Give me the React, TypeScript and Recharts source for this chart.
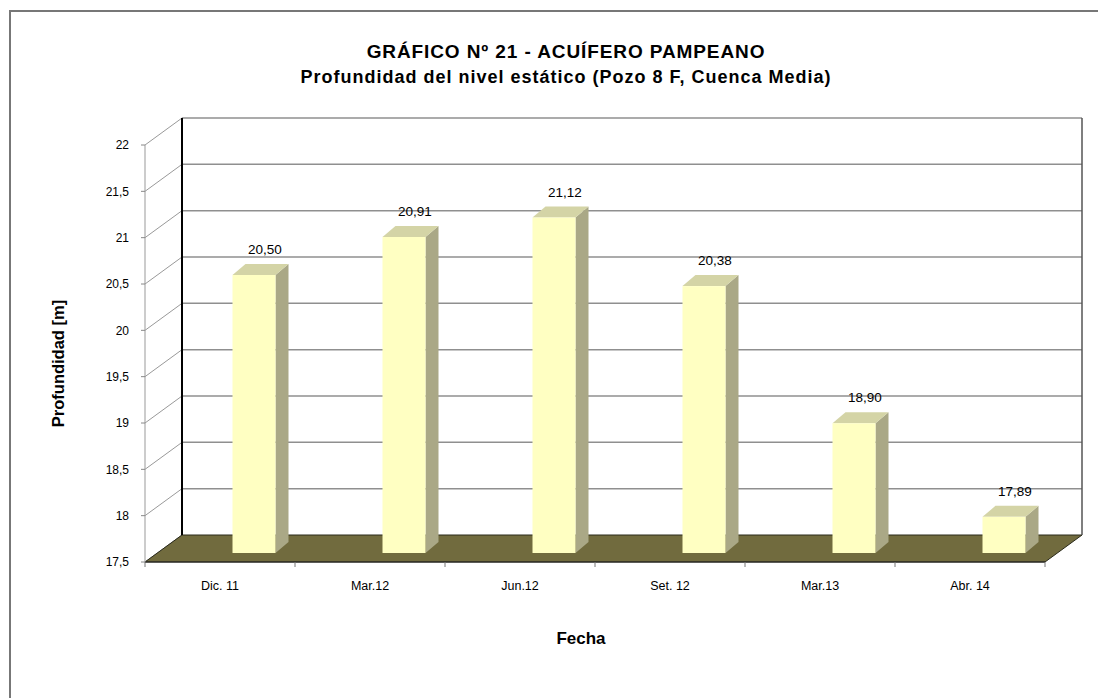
import { BarChart, Bar, XAxis, YAxis, CartesianGrid } from "recharts";

const fechas = ["Dic. 11", "Mar.12", "Jun.12", "Set. 12", "Mar.13", "Abr. 14"];
const profundidad = [20.5, 20.91, 21.12, 20.38, 18.9, 17.89];
const yTicks = [17.5, 18, 18.5, 19, 19.5, 20, 20.5, 21, 21.5, 22];

const data = fechas.map((fecha, i) => ({ fecha, profundidad: profundidad[i] }));

const W = 1098;
const H = 698;
// front plane of the 3D box
const TOP = 145;
const BOTTOM = 562;
const LEFT = 145;
const RIGHT = 1045;
const BAND = (RIGHT - LEFT) / fechas.length;
// depth of the box (back wall offset)
const DX = 37;
const DY = -27;

const FONT = "'Liberation Sans', Arial, sans-serif";

const coma = (v: number, d?: number) =>
  (d === undefined ? String(v) : v.toFixed(d)).replace(".", ",");

// each horizontal grid line becomes side-wall diagonal + back-wall line
function WallLine(props: any) {
  const { x1, x2, y1 } = props;
  const bx1 = x1 + DX;
  const bx2 = x2 + DX;
  const by = y1 + DY;
  if (Math.abs(y1 - BOTTOM) < 1) {
    return (
      <g>
        <line x1={x1} y1={y1} x2={bx1} y2={by} stroke="#999" strokeWidth={1} />
        <polygon
          points={`${x1},${y1} ${x2},${y1} ${bx2},${by} ${bx1},${by}`}
          fill="#716b3e"
          stroke="#2a2a1a"
          strokeWidth={1}
        />
      </g>
    );
  }
  const isTop = Math.abs(y1 - TOP) < 1;
  return (
    <g>
      <line x1={x1} y1={y1} x2={bx1} y2={by} stroke="#999" strokeWidth={1} />
      <line x1={bx1} y1={by} x2={bx2} y2={by} stroke="#8f8f8f" strokeWidth={1.5} />
      {isTop && (
        <>
          <line x1={bx1} y1={by} x2={bx1} y2={BOTTOM + DY} stroke="#000" strokeWidth={2} />
          <line x1={bx2} y1={by} x2={bx2} y2={BOTTOM + DY} stroke="#555" strokeWidth={1.5} />
        </>
      )}
    </g>
  );
}

function Column(props: any) {
  const { x, y, width, height, value } = props;
  const cx = x + width / 2;
  const fw = 43;
  const fx = cx + 12;
  const ftop = y - 9;
  const fbot = y + height - 9;
  const bdx = 13;
  const bdy = -11;
  return (
    <g>
      <polygon
        points={`${fx + fw},${ftop} ${fx + fw + bdx},${ftop + bdy} ${fx + fw + bdx},${fbot + bdy} ${fx + fw},${fbot}`}
        fill="#aaa886"
      />
      <polygon
        points={`${fx},${ftop} ${fx + bdx},${ftop + bdy} ${fx + fw + bdx},${ftop + bdy} ${fx + fw},${ftop}`}
        fill="#d4d4a6"
      />
      <rect x={fx} y={ftop} width={fw} height={fbot - ftop} fill="#ffffc2" />
      <text
        x={fx + fw / 2 + 11}
        y={ftop + bdy - 10}
        textAnchor="middle"
        fontSize={13.5}
        fontFamily={FONT}
        fill="#000"
      >
        {coma(value, 2)}
      </text>
    </g>
  );
}

function FechaTick(props: any) {
  const { x, payload, index } = props;
  const last = index === fechas.length - 1;
  return (
    <g>
      <line x1={x - BAND / 2} y1={BOTTOM} x2={x - BAND / 2} y2={BOTTOM + 5} stroke="#777" />
      {last && <line x1={x + BAND / 2} y1={BOTTOM} x2={x + BAND / 2} y2={BOTTOM + 5} stroke="#777" />}
      <text x={x} y={BOTTOM + 28} textAnchor="middle" fontSize={12.5} fontFamily={FONT} fill="#000">
        {payload.value}
      </text>
    </g>
  );
}

export default function App() {
  return (
    <div
      style={{
        position: "absolute",
        left: 0,
        top: 0,
        width: W,
        height: H,
        background: "#fff",
        fontFamily: FONT,
        overflow: "hidden",
      }}
    >
      <div
        style={{
          position: "absolute",
          left: 9,
          top: 10,
          width: W,
          height: H,
          borderTop: "2px solid #777",
          borderLeft: "2px solid #777",
        }}
      />
      <div
        style={{
          position: "absolute",
          left: 0,
          width: 1132,
          top: 40,
          textAlign: "center",
          fontWeight: "bold",
          fontSize: 19,
          letterSpacing: 0.9,
          lineHeight: "24px",
        }}
      >
        GRÁFICO Nº 21 - ACUÍFERO PAMPEANO
      </div>
      <div
        style={{
          position: "absolute",
          left: 0,
          width: 1132,
          top: 65,
          textAlign: "center",
          fontWeight: "bold",
          fontSize: 18,
          letterSpacing: 1,
          lineHeight: "24px",
        }}
      >
        Profundidad del nivel estático (Pozo 8 F, Cuenca Media)
      </div>
      <div
        style={{
          position: "absolute",
          left: 58 - 100,
          top: 354,
          width: 200,
          textAlign: "center",
          fontWeight: "bold",
          fontSize: 16.5,
          transform: "rotate(-90deg)",
        }}
      >
        Profundidad [m]
      </div>
      <div
        style={{
          position: "absolute",
          left: 481,
          width: 200,
          top: 629,
          textAlign: "center",
          fontWeight: "bold",
          fontSize: 17,
        }}
      >
        Fecha
      </div>
      <div style={{ position: "absolute", left: 0, top: 0 }}>
        <BarChart
          width={W}
          height={H}
          data={data}
          margin={{ top: TOP, right: W - RIGHT, left: LEFT - 60, bottom: H - BOTTOM - 30 }}
          barSize={43}
        >
          <CartesianGrid vertical={false} horizontal={(p: any) => <WallLine key={p.key} {...p} />} />
          <XAxis
            dataKey="fecha"
            height={30}
            interval={0}
            tickLine={false}
            axisLine={{ stroke: "#222", strokeWidth: 1 }}
            tick={<FechaTick />}
          />
          <YAxis
            width={60}
            domain={[17.5, 22]}
            ticks={yTicks}
            interval={0}
            tickSize={4}
            tickMargin={12}
            tickLine={{ stroke: "#888" }}
            axisLine={{ stroke: "#999" }}
            tickFormatter={(v: number) => coma(v)}
            tick={{ fontSize: 12, fill: "#000", fontFamily: FONT }}
          />
          <Bar dataKey="profundidad" isAnimationActive={false} shape={<Column />} />
        </BarChart>
      </div>
    </div>
  );
}
